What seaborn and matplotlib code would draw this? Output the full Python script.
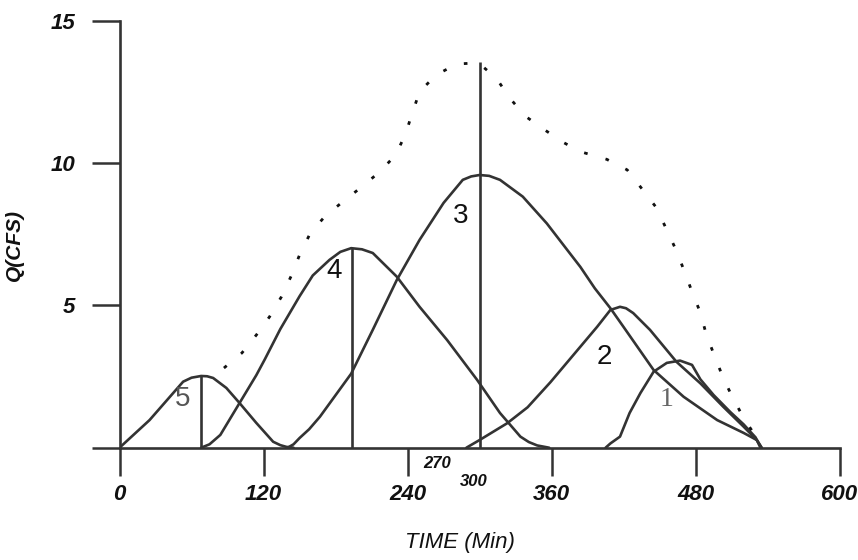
import matplotlib
matplotlib.use("Agg")
import matplotlib.pyplot as plt
import seaborn as sns

# ---- data ----
c5_t = [0, 25, 42, 53, 60, 68, 73, 78, 89, 100, 114, 128, 134, 139, 145]
c5_q = [0, 0.97, 1.79, 2.32, 2.46, 2.52, 2.51, 2.45, 2.10, 1.57, 0.87, 0.21, 0.09, 0.03, 0]

c4_t = [68, 75, 84, 100, 114, 121, 134, 150, 161, 175, 184, 193, 202, 211, 231, 250, 273, 298, 317, 334, 341, 348, 358]
c4_q = [0, 0.12, 0.45, 1.57, 2.55, 3.10, 4.17, 5.32, 6.05, 6.60, 6.88, 7.01, 6.97, 6.84, 6.01, 4.95, 3.78, 2.38, 1.22, 0.39, 0.20, 0.08, 0]

c3_t = [140, 145, 150, 158, 167, 193, 211, 231, 250, 270, 286, 293, 300, 308, 317, 336, 356, 373, 384, 396, 409, 420, 445, 470, 498, 520, 531, 535]
c3_q = [0, 0.12, 0.34, 0.65, 1.09, 2.60, 4.14, 5.89, 7.30, 8.60, 9.41, 9.53, 9.58, 9.55, 9.41, 8.82, 7.88, 6.95, 6.35, 5.60, 4.90, 4.24, 2.73, 1.79, 0.97, 0.52, 0.27, 0]

c2_t = [289, 300, 323, 340, 359, 367, 384, 398, 409, 417, 422, 428, 442, 464, 484, 503, 520, 531, 535]
c2_q = [0, 0.27, 0.86, 1.42, 2.30, 2.70, 3.55, 4.25, 4.84, 4.95, 4.90, 4.73, 4.14, 3.02, 2.26, 1.44, 0.74, 0.27, 0]

c1_t = [405, 409, 417, 425, 434, 445, 456, 467, 477, 484, 495, 509, 520, 530, 534]
c1_q = [0, 0.15, 0.39, 1.22, 1.92, 2.67, 2.98, 3.06, 2.91, 2.40, 1.85, 1.25, 0.82, 0.36, 0]

total_t = [87, 102, 114, 125, 135, 143, 150, 159, 171, 186, 202, 217, 230, 238, 244, 250, 264, 281, 299,
           314, 325, 338, 353, 370, 384, 406, 423, 435, 447, 455, 463, 470, 477, 484, 489, 496, 503, 511, 521, 534]
total_q = [2.80, 3.33, 3.96, 4.60, 5.31, 6.03, 6.77, 7.54, 8.12, 8.64, 9.17, 9.70, 10.28, 10.99, 11.76, 12.51, 13.10, 13.48, 13.52,
           12.98, 12.29, 11.65, 11.20, 10.72, 10.40, 10.13, 9.76, 9.11, 8.45, 7.74, 7.01, 6.27, 5.48, 4.74, 3.96, 3.20, 2.45, 1.75, 0.97, 0.16]

peak_t = [68, 194, 300]
peak_q = [2.52, 7.0, 13.55]

curve_names = ["5", "4", "3", "2", "1"]
label_t = [52.5, 178.75, 284.6, 403.75, 456]
label_q = [1.71, 6.21, 8.14, 3.19, 1.68]

x_ticks = [0, 120, 240, 360, 480, 600]
y_ticks = [0, 5, 10, 15]
y_ticklabels = ["", "5", "10", "15"]
extra_t = [265, 295]
extra_labels = ["270", "300"]

# ---- style ----
sns.set_style("ticks")
plt.rcParams["font.family"] = ["Liberation Sans", "DejaVu Sans"]

INK = "#333333"
LW = 1.9

fig = plt.figure(figsize=(8.58, 5.6), dpi=100)
ax = fig.add_axes([0.1393, 0.2005, 0.8393, 0.7625])

for tt, qq in [(c5_t, c5_q), (c4_t, c4_q), (c3_t, c3_q), (c2_t, c2_q), (c1_t, c1_q)]:
    sns.lineplot(x=tt, y=qq, ax=ax, color=INK, linewidth=LW, estimator=None, sort=False)

sns.lineplot(x=total_t, y=total_q, ax=ax, color="#111111", linewidth=2.0,
             estimator=None, sort=False, linestyle=(0, (1.3, 6.7)))

ax.vlines(peak_t, 0, peak_q, colors=INK, linewidth=LW)

label_colors = ["#555555", "#111111", "#111111", "#111111", "#666666"]
label_fams = [["Liberation Sans"], ["Liberation Sans"], ["Liberation Sans"], ["Liberation Sans"], ["Liberation Serif"]]
for name, tx, qy, col, fam in zip(curve_names, label_t, label_q, label_colors, label_fams):
    ax.text(tx, qy, name, fontsize=20, color=col, ha="center", va="center", family=fam)

for tx, lab, yoff in zip(extra_t, extra_labels, [-0.57, -1.2]):
    ax.text(tx, yoff, lab, fontsize=12, fontweight="bold", fontstyle="italic",
            ha="center", va="center", clip_on=False, color="#111111")

ax.set_xlim(0, 600)
ax.set_ylim(0, 15)
ax.set_xticks(x_ticks)
ax.set_xticklabels([str(v) for v in x_ticks])
ax.set_yticks(y_ticks)
ax.set_yticklabels(y_ticklabels)

for lab in ax.get_xticklabels() + ax.get_yticklabels():
    lab.set_fontsize(16)
    lab.set_fontweight("bold")
    lab.set_fontstyle("italic")
    lab.set_color("#111111")

ax.tick_params(axis="x", length=20, width=1.8, color=INK, pad=6)
ax.tick_params(axis="y", length=20, width=1.8, color=INK, pad=12)

for s in ["top", "right"]:
    ax.spines[s].set_visible(False)
for s in ["left", "bottom"]:
    ax.spines[s].set_linewidth(1.9)
    ax.spines[s].set_color(INK)

ax.set_xlabel("TIME (Min)", fontsize=16, fontstyle="italic", color="#111111")
ax.xaxis.set_label_coords(0.473, -0.198)
ax.set_ylabel("Q(CFS)", fontsize=15, fontweight="bold", fontstyle="italic", color="#111111")
ax.yaxis.set_label_coords(-0.1326, 0.475)

fig.savefig("out.png", dpi=100)
